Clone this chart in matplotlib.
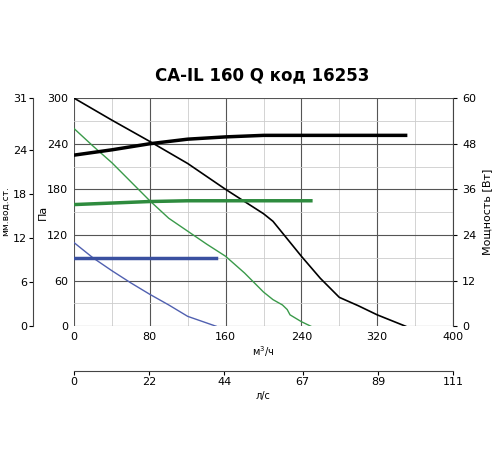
import matplotlib
matplotlib.use("Agg")
import matplotlib.pyplot as plt

bk_x = [0,40,80,120,160,200,210,240,260,280,300,320,350]
bk_y = [300,271,243,214,180,148,138,92,63,38,27,15,0]
gr_x = [0,20,40,60,80,100,120,140,160,180,200,210,220,225,228,240,250]
gr_y = [260,237,215,190,165,142,125,108,92,70,45,35,28,22,15,6,0]
bl_x = [0,20,40,60,80,100,120,150]
bl_y = [110,90,73,57,42,28,13,0]
pbk_x = [0,40,80,120,160,200,280,350]
pbk_y = [225,232,240,246,249,251,251,251]
pgr_x = [0,40,80,120,160,250]
pgr_y = [160,162,164,165,165,165]
pbl_x = [0,150]
pbl_y = [90,90]
mm_ticks = [0,6,12,18,24,31]
ls_ticks = [0,22,44,67,89,111]

fig = plt.figure(figsize=(5,4.5), dpi=100)
ax = fig.add_axes([0.148, 0.275, 0.758, 0.507])
ax.set_xlim(0,400); ax.set_ylim(0,300)
ax.set_xticks(range(0,401,80)); ax.set_yticks(range(0,301,60))
ax.set_xticks(range(40,400,80), minor=True); ax.set_yticks(range(30,300,60), minor=True)
ax.grid(True, which='major', color='#555', lw=0.8)
ax.grid(True, which='minor', color='#ccc', lw=0.6)
ax.tick_params(which='both', length=0, labelsize=8, pad=4)
for s in ax.spines.values(): s.set_visible(False)
ax.plot(bk_x,bk_y,color='black',lw=1.2)
ax.plot(gr_x,gr_y,color='#3a9a4a',lw=1.0)
ax.plot(bl_x,bl_y,color='#5060b0',lw=1.0)
ax.plot(pbk_x,pbk_y,color='black',lw=2.5)
ax.plot(pgr_x,pgr_y,color='#2e8b3e',lw=2.5)
ax.plot(pbl_x,pbl_y,color='#3a50a0',lw=2.5)
ax.set_ylabel('Па', fontsize=8)
ax.set_xlabel('м$^3$/ч', fontsize=7, labelpad=2)
ax.yaxis.set_label_coords(-0.07, 0.5)

ar = ax.twinx(); ar.set_ylim(0,60); ar.set_yticks(range(0,61,12))
ar.tick_params(length=3, labelsize=8)
for k in ['top','bottom','left']: ar.spines[k].set_visible(False)
ar.spines['right'].set_color('#444')
ar.set_ylabel('Мощность [Вт]', fontsize=8)

al = fig.add_axes([0.066, 0.275, 0.0001, 0.507])
al.set_ylim(0,31); al.set_yticks(mm_ticks); al.set_xticks([])
for k in ['top','bottom','right']: al.spines[k].set_visible(False)
al.spines['left'].set_color('#444')
al.tick_params(axis='y', direction='out', length=3, labelsize=8, pad=1)
fig.text(0.002, 0.53, 'мм.вод.ст.', rotation=90, fontsize=6.5, va='center')

ab = fig.add_axes([0.148, 0.175, 0.758, 0.0001])
ab.set_xlim(0,111); ab.set_xticks(ls_ticks); ab.set_yticks([])
for k in ['left','right','bottom']: ab.spines[k].set_visible(False)
ab.spines['top'].set_color('#444')
ab.xaxis.set_ticks_position('top')
ab.tick_params(axis='x', direction='in', length=3, labelsize=8, labeltop=False, labelbottom=True, pad=4)
ab.set_xlabel('л/с', fontsize=7, labelpad=3)

fig.text(0.525, 0.833, 'CA-IL 160 Q код 16253', ha='center', va='center', fontsize=12, fontweight='bold')
fig.savefig('out.png')
